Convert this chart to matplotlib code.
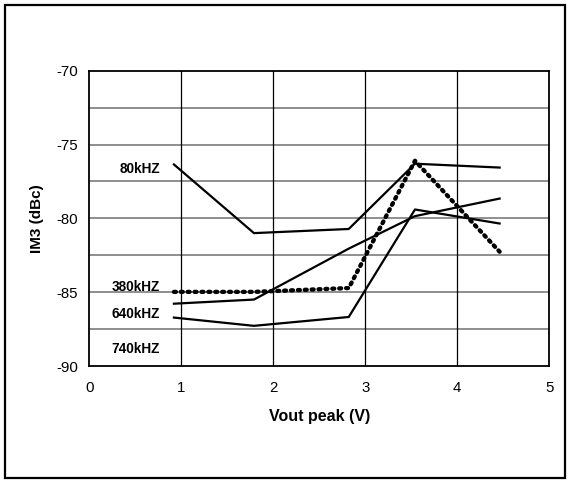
import matplotlib
matplotlib.use("Agg")
import matplotlib.pyplot as plt
from matplotlib.patches import Rectangle

plt.rcParams['font.family'] = ['Liberation Sans', 'DejaVu Sans']
plt.rcParams['axes.unicode_minus'] = False

vout = [0.92, 1.79, 2.82, 3.54, 4.46]
im3_80k = [-76.35, -81.0, -80.72, -76.3, -76.56]
im3_380k = [-84.98, -84.98, -84.72, -76.1, -82.26]
im3_640k = [-85.78, -85.5, -82.05, -79.85, -78.66]
im3_740k = [-86.72, -87.28, -86.68, -79.4, -80.35]

label_names = ["80kHZ", "380kHZ", "640kHZ", "740kHZ"]
label_y = [-76.68, -84.62, -86.47, -88.87]
label_x = 0.77

xticks = [0, 1, 2, 3, 4, 5]
yticks = [-90, -85, -80, -75, -70]
hgrid = [-87.5, -85, -82.5, -80, -77.5, -75, -72.5]
vgrid = [1, 2, 3, 4]

fig = plt.figure(figsize=(5.72, 4.82), dpi=100)
ax = fig.add_axes([89.3/572, 1 - 366/482, 460/572, 295.3/482])

ax.set_xlim(0, 5)
ax.set_ylim(-90, -70)

for y in hgrid:
    ax.axhline(y, color='#707070', lw=1.1, zorder=1)
for x in vgrid:
    ax.axvline(x, color='black', lw=0.9, zorder=1)

ax.plot(vout, im3_80k, color='black', lw=1.6, zorder=3)
ax.plot(vout, im3_640k, color='black', lw=1.6, zorder=3)
ax.plot(vout, im3_740k, color='black', lw=1.6, zorder=3)
ax.plot(vout, im3_380k, color='black', lw=3.1, zorder=4,
        linestyle=(0, (0.45, 1.15)), dash_capstyle='round')

for name, y in zip(label_names, label_y):
    ax.text(label_x, y, name, ha='right', va='center', fontsize=9.8,
            fontweight='bold', zorder=5)

ax.set_xticks(xticks)
ax.set_yticks(yticks)
ax.tick_params(length=0, labelsize=10.8, pad=8)
ax.tick_params(axis='x', pad=11)
for s in ax.spines.values():
    s.set_linewidth(1.3)
    s.set_color('black')

ax.set_xlabel('Vout peak (V)', fontsize=11.5, fontweight='bold', labelpad=10)
ax.set_ylabel('IM3 (dBc)', fontsize=11, fontweight='bold', labelpad=9)

fig.patches.append(Rectangle((5/572, 1 - 478/482), 560/572, 473/482,
                             transform=fig.transFigure, fill=False,
                             edgecolor='black', lw=1.6))

fig.savefig('out.png', dpi=100)
